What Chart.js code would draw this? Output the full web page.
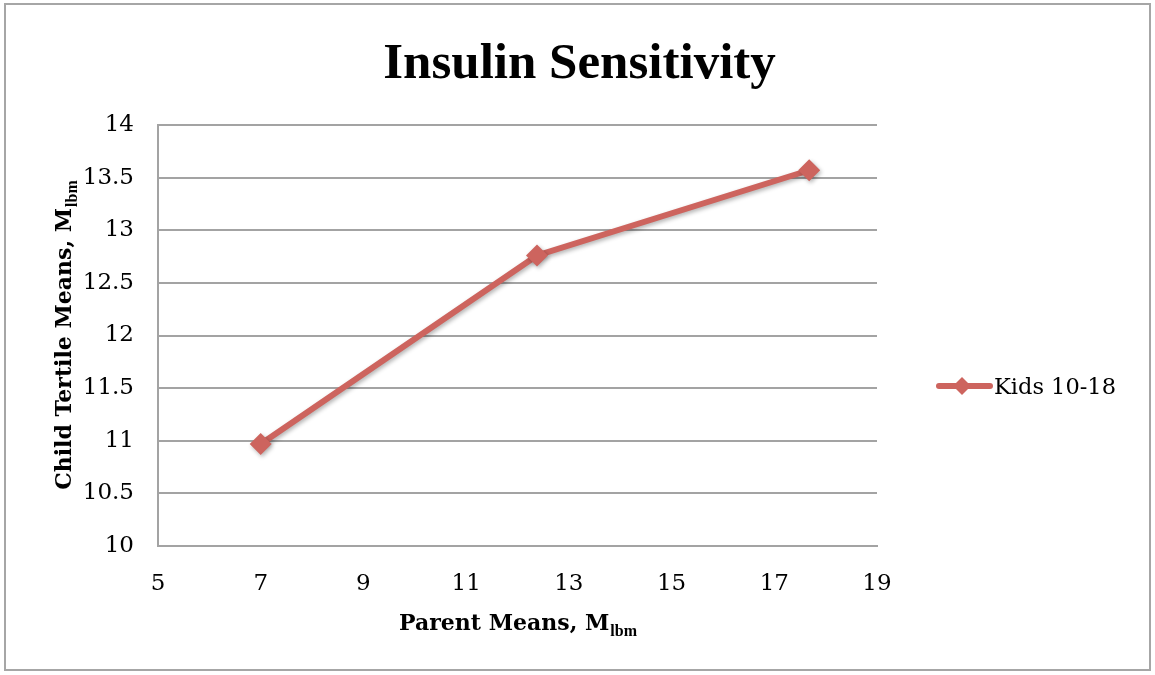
<!DOCTYPE html>
<html>
<head>
<meta charset="utf-8">
<script src="https://cdn.jsdelivr.net/npm/chart.js@4"></script>
<style>
  html, body { margin: 0; padding: 0; background: #fff; }
  #frame {
    position: absolute;
    left: 4px;
    top: 3px;
    width: 1143px;
    height: 664px;
    border: 2px solid #a6a6a6;
  }
</style>
</head>
<body>
<div id="frame"><canvas id="chart"></canvas></div>
<script>
// Data
const chartTitle = 'Insulin Sensitivity';
const seriesName = 'Kids 10-18';
const parentMeans = [7.0, 12.38, 17.68];
const childMeans = [10.97, 12.76, 13.57];
const xTicks = [5, 7, 9, 11, 13, 15, 17, 19];
const yTicks = [10, 10.5, 11, 11.5, 12, 12.5, 13, 13.5, 14];

const lineColor = '#cd645e';
const gridColor = '#a3a3a3';
const serif = '"DejaVu Serif", serif';
const times = '"Liberation Serif", serif';

// draws "main" followed by a subscript, centred on x
function drawSub(ctx, main, sub, x, y, mainFont, subFont) {
    ctx.font = mainFont;
    const w1 = ctx.measureText(main).width;
    ctx.font = subFont;
    const w2 = ctx.measureText(sub).width;
    const start = x - (w1 + w2) / 2;
    ctx.textAlign = 'left';
    ctx.textBaseline = 'alphabetic';
    ctx.font = mainFont;
    ctx.fillText(main, start, y);
    ctx.font = subFont;
    ctx.fillText(sub, start + w1 + 1, y + 6);
}

const extras = {
    id: 'extras',
    beforeDatasetsDraw(chart) {
        const ctx = chart.ctx;
        ctx.save();
        ctx.shadowColor = 'rgba(0,0,0,0.3)';
        ctx.shadowBlur = 4;
        ctx.shadowOffsetX = 1.5;
        ctx.shadowOffsetY = 2;
    },
    afterDatasetsDraw(chart) {
        chart.ctx.restore();
    },
    afterDraw(chart) {
        const { ctx, chartArea: a } = chart;
        ctx.save();
        ctx.fillStyle = '#000';

        // title, centred on the whole frame
        ctx.font = 'bold 51px ' + times;
        ctx.textAlign = 'center';
        ctx.textBaseline = 'alphabetic';
        ctx.fillText(chartTitle, chart.width / 2 + 2, 73);

        const mainFont = 'bold 22px ' + serif;
        const subFont = 'bold 16px ' + times;

        // x axis title
        drawSub(ctx, 'Parent Means, M', 'lbm', (a.left + a.right) / 2, 625, mainFont, subFont);

        // y axis title
        ctx.save();
        ctx.translate(65, (a.top + a.bottom) / 2);
        ctx.rotate(-Math.PI / 2);
        drawSub(ctx, 'Child Tertile Means, M', 'lbm', 0, 0, mainFont, subFont);
        ctx.restore();

        // legend
        const ly = 381;
        ctx.strokeStyle = lineColor;
        ctx.lineWidth = 6;
        ctx.lineCap = 'round';
        ctx.beginPath();
        ctx.moveTo(933, ly);
        ctx.lineTo(984, ly);
        ctx.stroke();
        ctx.fillStyle = lineColor;
        ctx.beginPath();
        ctx.moveTo(956, ly - 9);
        ctx.lineTo(965, ly);
        ctx.lineTo(956, ly + 9);
        ctx.lineTo(947, ly);
        ctx.closePath();
        ctx.fill();
        ctx.fillStyle = '#000';
        ctx.font = '22.5px ' + serif;
        ctx.textAlign = 'left';
        ctx.textBaseline = 'middle';
        ctx.fillText(seriesName, 988, ly + 2);
        ctx.restore();
    }
};

const ctx = document.getElementById('chart').getContext('2d');
new Chart(ctx, {
    type: 'line',
    data: {
        datasets: [{
            label: seriesName,
            data: parentMeans.map((x, i) => ({ x: x, y: childMeans[i] })),
            borderColor: lineColor,
            backgroundColor: lineColor,
            borderWidth: 6,
            pointStyle: 'rectRot',
            pointRadius: 11,
            pointHoverRadius: 11,
            pointBorderWidth: 0,
            tension: 0
        }]
    },
    options: {
        responsive: true,
        maintainAspectRatio: false,
        animation: false,
        layout: { padding: { left: 0, top: 120, right: 272, bottom: 0 } },
        plugins: {
            legend: { display: false },
            tooltip: { enabled: false },
            title: { display: false }
        },
        scales: {
            x: {
                type: 'linear',
                min: xTicks[0],
                max: xTicks[xTicks.length - 1],
                afterBuildTicks: s => { s.ticks = xTicks.map(v => ({ value: v })); },
                afterFit: s => { s.height = 123; },
                ticks: {
                    color: '#000',
                    font: { family: serif, size: 23 },
                    padding: 24,
                    maxRotation: 0
                },
                grid: { display: false, drawTicks: false },
                border: { display: true, color: gridColor, width: 2 }
            },
            y: {
                min: yTicks[0],
                max: yTicks[yTicks.length - 1],
                afterBuildTicks: s => { s.ticks = yTicks.map(v => ({ value: v })); },
                afterFit: s => { s.width = 152; },
                ticks: {
                    color: '#000',
                    font: { family: serif, size: 23 },
                    padding: 24,
                    callback: v => String(v)
                },
                grid: { color: gridColor, lineWidth: 2, drawTicks: false },
                border: { display: true, color: gridColor, width: 2 }
            }
        }
    },
    plugins: [extras]
});
</script>
</body>
</html>
